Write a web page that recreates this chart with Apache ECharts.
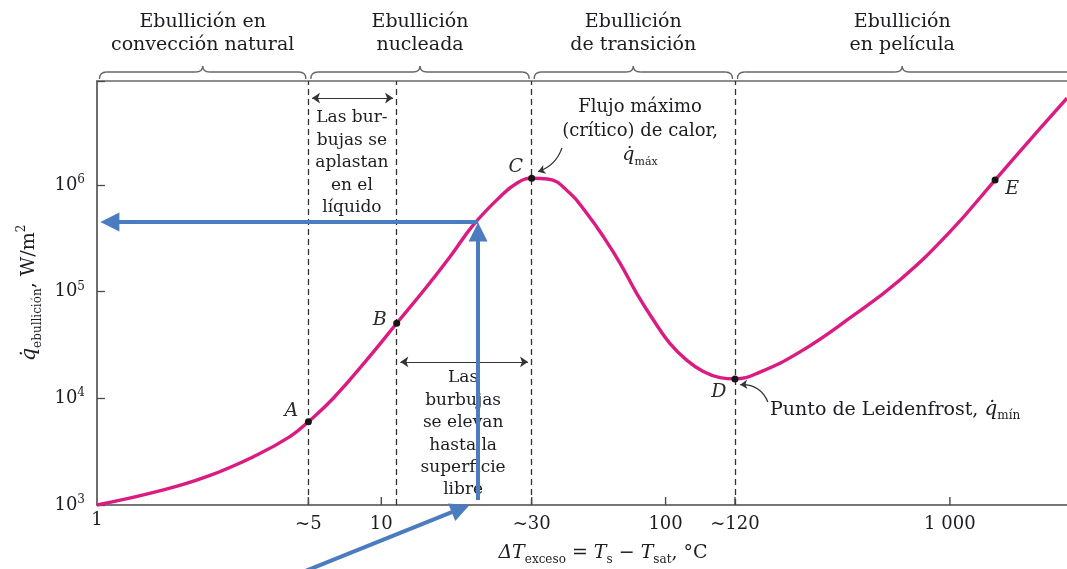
<!DOCTYPE html>
<html><head><meta charset="utf-8">
<script src="https://cdn.jsdelivr.net/npm/echarts@6/dist/echarts.min.js"></script>
<style>html,body{margin:0;padding:0;background:#fff}#c{width:1067px;height:569px}</style>
</head><body><div id="c"></div>
<script>
// ---- data (ΔT in °C, q in W/m²) ----
const curveX = [1, 1.62, 2.43, 3.65, 4.77, 5.54, 6.78, 8.89, 11.33, 14.45, 17.45, 21.08, 26.2, 29.96, 33.8, 38.5, 46.1, 52.8, 60.4, 69.2, 79.1, 90.6, 103.5, 118.6, 135.7, 155.4, 175.4, 214.8, 297, 445, 667, 1000, 1442, 1914, 2582];
const curveQ = [1000, 1333, 1842, 2940, 4370, 6030, 10000, 22900, 50500, 111000, 212000, 421000, 775000, 1035000, 1153000, 1135000, 834000, 542000, 327000, 184000, 96400, 54200, 32700, 22800, 17800, 15600, 15200, 17600, 27200, 56600, 128500, 362000, 1110000, 2640000, 6500000];
const pointNames = ['A', 'B', 'C', 'D', 'E'];
const pointX = [5.54, 11.33, 33.8, 175.4, 1442];
const pointQ = [6030, 50500, 1153000, 15200, 1110000];
const dashedX = [5.54, 11.33, 33.8, 175.4];
const xTickValues = [1, 5.54, 10, 33.8, 100, 175.4, 1000];
const xTickLabels = ['1', '~5', '10', '~30', '100', '~120', '1 000'];
const yTickExponents = [3, 4, 5, 6];
const regionEdges = [1, 5.54, 33.8, 175.4, 2582];
const regionTitles = ['Ebullición en\nconvección natural', 'Ebullición\nnucleada', 'Ebullición\nde transición', 'Ebullición\nen película'];
const readoutX = [21.9];
const readoutQ = [449000];
const xMin = 1, xMax = 2582, yMin = 1000, yMax = 9.4e6;

// ---- styling ----
const FONT = 'DejaVu Serif';
const TXT = '#1c1c22';
const CURVE = '#DC1B82';
const BLUE = '#4A7CBF';
const pointLabelOffsets = [[-17, -11], [-17, -3], [-16, -11], [-16, 13], [17, 9]];

const chart = echarts.init(document.getElementById('c'));

const supRich = {
  b: { fontSize: 18, fontFamily: FONT, color: TXT, lineHeight: 22 },
  s: { fontSize: 12, fontFamily: FONT, color: TXT, lineHeight: 12, verticalAlign: 'top' }
};
const noteRich = {
  t: { fontFamily: FONT, fontSize: 18, color: TXT, lineHeight: 24 },
  q: { fontFamily: FONT, fontSize: 19, fontStyle: 'italic', color: TXT, lineHeight: 24 },
  s: { fontFamily: FONT, fontSize: 11, color: TXT, lineHeight: 11, verticalAlign: 'bottom' }
};

chart.setOption({
  animation: false,
  backgroundColor: '#fff',
  grid: { left: 97, right: 0, top: 81, bottom: 64, containLabel: false, outerBoundsMode: 'none' },
  xAxis: [{
    type: 'log', logBase: 10, min: xMin, max: xMax,
    axisLine: { lineStyle: { color: '#4a4a4a', width: 1.6 } },
    axisTick: { show: false }, axisLabel: { show: false }, splitLine: { show: false },
    name: '{i|ΔT}{sub|exceso}{t| = }{i|T}{sub|s}{t| − }{i|T}{sub|sat}{t|, °C}',
    nameLocation: 'middle', nameGap: 35,
    nameTextStyle: {
      padding: [0, 0, 0, 42],
      rich: {
        i: { fontSize: 19, fontFamily: FONT, fontStyle: 'italic', color: TXT, lineHeight: 26 },
        t: { fontSize: 19, fontFamily: FONT, color: TXT, lineHeight: 26 },
        sub: { fontSize: 12, fontFamily: FONT, color: TXT, lineHeight: 12, verticalAlign: 'bottom' }
      }
    }
  }, {
    type: 'log', logBase: 10, min: xMin, max: xMax, position: 'top',
    axisLine: { lineStyle: { color: '#6a6a6a', width: 1.6 } },
    axisTick: { show: false }, axisLabel: { show: false }, splitLine: { show: false }
  }],
  yAxis: {
    type: 'log', logBase: 10, min: yMin, max: yMax,
    axisLine: { lineStyle: { color: '#4a4a4a', width: 1.6 } },
    axisTick: { inside: true, length: 8, lineStyle: { color: '#4a4a4a', width: 1.3 } },
    splitLine: { show: false },
    axisLabel: {
      margin: 12,
      formatter: function (v) {
        const e = Math.log10(v);
        const r = Math.round(e);
        if (Math.abs(e - r) > 0.01 || yTickExponents.indexOf(r) < 0) return '';
        return '{b|10}{s|' + r + '}';
      },
      rich: supRich
    },
    name: '{q|q\u0307}{sub|ebullición}{t|, W/m}{sup|2}',
    nameLocation: 'middle', nameRotate: 90, nameGap: 47,
    nameTextStyle: {
      rich: {
        q: { fontSize: 21, fontFamily: FONT, fontStyle: 'italic', color: TXT, lineHeight: 28 },
        t: { fontSize: 19, fontFamily: FONT, color: TXT, lineHeight: 28 },
        sub: { fontSize: 12, fontFamily: FONT, color: TXT, lineHeight: 12, verticalAlign: 'bottom' },
        sup: { fontSize: 12, fontFamily: FONT, color: TXT, lineHeight: 12, verticalAlign: 'top' }
      }
    }
  },
  series: [
    { // dashed region boundaries
      type: 'lines', coordinateSystem: 'cartesian2d', z: 1, clip: false, silent: true,
      lineStyle: { color: '#333', width: 1.3, type: [6, 4], opacity: 1 },
      data: dashedX.map(x => ({ coords: [[x, yMin], [x, yMax]] }))
    },
    { // boiling curve
      type: 'line', z: 3, symbol: 'none', smooth: 0.45, smoothMonotone: 'none', silent: true,
      lineStyle: { color: CURVE, width: 3.4 },
      data: curveX.map((x, i) => [x, curveQ[i]])
    },
    { // x ticks and labels
      type: 'scatter', z: 4, clip: false, silent: true,
      symbol: 'rect', symbolOffset: [0, -4],
      symbolSize: (v, p) => p.dataIndex === 0 ? 0 : [1.4, 8],
      itemStyle: { color: '#4a4a4a', opacity: 1 },
      label: { show: true, position: 'bottom', distance: 10, fontFamily: FONT, fontSize: 18, color: TXT, opacity: 1,
        formatter: p => xTickLabels[p.dataIndex] },
      data: xTickValues.map(x => [x, yMin])
    },
    { // key points A..E
      type: 'scatter', z: 5, clip: false, silent: true, symbolSize: 7,
      itemStyle: { color: '#151515', opacity: 1 },
      label: { show: true, position: 'inside', fontFamily: FONT, fontSize: 19, fontStyle: 'italic', color: '#2a2a2a', opacity: 1,
        formatter: p => pointNames[p.dataIndex] },
      data: pointX.map((x, i) => ({ value: [x, pointQ[i]], label: { offset: pointLabelOffsets[i] } }))
    },
    { // double-headed range arrows
      type: 'lines', coordinateSystem: 'cartesian2d', z: 2, clip: false, silent: true,
      symbol: ['arrow', 'arrow'], symbolSize: 8,
      lineStyle: { color: '#333', width: 1.2, opacity: 1 },
      data: [
        { coords: [[dashedX[0] * 1.03, 6.5e6], [dashedX[1] / 1.03, 6.5e6]] },
        { coords: [[dashedX[1] * 1.03, 21900], [dashedX[2] / 1.03, 21900]] }
      ]
    },
    { // callout arrows to C and D
      type: 'lines', coordinateSystem: 'cartesian2d', z: 2, clip: false, silent: true,
      symbol: ['none', 'arrow'], symbolSize: 7,
      lineStyle: { color: '#333', width: 1.3, opacity: 1, curveness: 0.25 },
      data: [
        { coords: [[43.2, 2.22e6], [35.6, 1.33e6]] },
        { coords: [[229, 9230], [183, 13400]], lineStyle: { curveness: -0.35 } }
      ]
    },
    { // notes
      type: 'scatter', z: 2, clip: false, silent: true, symbolSize: 0,
      itemStyle: { opacity: 1 },
      label: { show: true, position: 'inside', fontFamily: FONT, fontSize: 17, color: TXT, opacity: 1, align: 'center' },
      data: [
        { value: [7.88, 1.6e6], label: { color: TXT, formatter: 'Las bur-\nbujas se\naplastan\nen el\nlíquido', lineHeight: 22.5 } },
        { value: [19.4, 4630], label: { color: TXT, formatter: 'Las\nburbujas\nse elevan\nhasta la\nsuperficie\nlibre', lineHeight: 22.4 } },
        { value: [81.3, 3.16e6], label: {
          formatter: '{t|Flujo máximo}\n{t|(crítico) de calor,}\n{q|q\u0307}{s|máx}', rich: noteRich } },
        { value: [233, 7760], label: {
          align: 'left',
          formatter: '{t|Punto de Leidenfrost, }{q|q\u0307}{s|mín}',
          rich: {
            t: { fontFamily: FONT, fontSize: 19, color: TXT, lineHeight: 24 },
            q: { fontFamily: FONT, fontSize: 20, fontStyle: 'italic', color: TXT, lineHeight: 24 },
            s: { fontFamily: FONT, fontSize: 12, color: TXT, lineHeight: 11, verticalAlign: 'bottom' }
          } } }
      ]
    },
    { // blue read-out arrows
      type: 'lines', coordinateSystem: 'cartesian2d', z: 10, clip: false, silent: true,
      symbol: ['none', 'triangle'], symbolSize: 19,
      lineStyle: { color: BLUE, width: 4, opacity: 1 },
      data: [
        { coords: [[readoutX[0], readoutQ[0]], [1.11, readoutQ[0]]] },
        { coords: [[readoutX[0], 1114], [readoutX[0], readoutQ[0] / 1.24]] },
        { coords: [[5.39, 240], [19.0, 923]] }
      ]
    }
  ]
});

// region titles and braces placed from the region edges through the axis scale
const px = (x, y) => chart.convertToPixel({ xAxisIndex: 0, yAxisIndex: 0 }, [x, y]);
const topY = px(1, yMax)[1];
const g = [];
for (let i = 0; i < regionTitles.length; i++) {
  const xl = px(regionEdges[i], yMax)[0] + 2.5;
  const xr = px(regionEdges[i + 1], yMax)[0] - (i === regionTitles.length - 1 ? 0 : 2.5);
  const xm = (xl + xr) / 2;
  const ya = topY - 9, ye = topY - 2, yt = topY - 15;
  const st = { stroke: '#666', lineWidth: 1.3, fill: null };
  g.push({ type: 'bezierCurve', shape: { x1: xl, y1: ye, x2: xl + 7, y2: ya, cpx1: xl, cpy1: ya }, style: st, silent: true });
  g.push({ type: 'line', shape: { x1: xl + 7, y1: ya, x2: xm - 7, y2: ya }, style: st, silent: true });
  g.push({ type: 'bezierCurve', shape: { x1: xm - 7, y1: ya, x2: xm, y2: yt, cpx1: xm, cpy1: ya }, style: st, silent: true });
  g.push({ type: 'bezierCurve', shape: { x1: xm, y1: yt, x2: xm + 7, y2: ya, cpx1: xm, cpy1: ya }, style: st, silent: true });
  if (i === regionTitles.length - 1) {
    g.push({ type: 'line', shape: { x1: xm + 7, y1: ya, x2: xr, y2: ya }, style: st, silent: true });
  } else {
    g.push({ type: 'line', shape: { x1: xm + 7, y1: ya, x2: xr - 7, y2: ya }, style: st, silent: true });
    g.push({ type: 'bezierCurve', shape: { x1: xr - 7, y1: ya, x2: xr, y2: ye, cpx1: xr, cpy1: ya }, style: st, silent: true });
  }
  g.push({ type: 'text', x: xm, y: topY - 47, silent: true,
    style: { text: regionTitles[i], fill: TXT, fontFamily: FONT, fontSize: 19, lineHeight: 23, align: 'center', verticalAlign: 'middle' } });
}
chart.setOption({ graphic: g });
</script>
</body></html>
